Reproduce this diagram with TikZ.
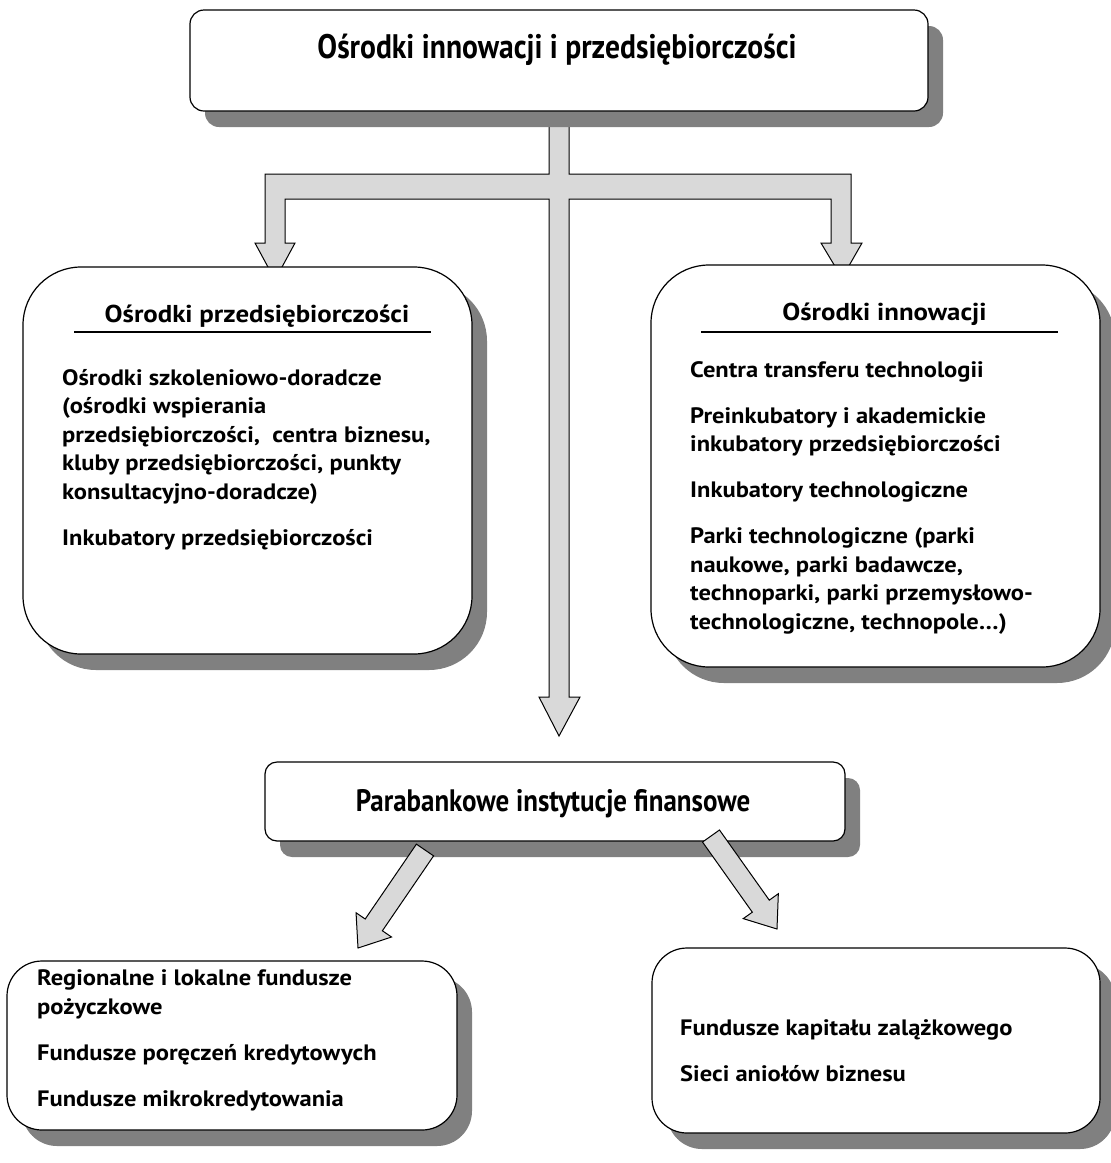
\documentclass[tikz,border=0pt]{standalone}
\usepackage{fontspec}
\setmainfont{PT Sans}
\newfontfamily\condfont[FakeStretch=0.87]{PT Sans}
\newfontfamily\widefont[FakeStretch=1.1]{PT Sans}
\usetikzlibrary{shadows,calc}
\definecolor{arrowfill}{RGB}{217,217,217}
\definecolor{shadowgray}{RGB}{128,128,128}
\tikzset{
  box/.style={draw=black, line width=1.2pt, fill=white, inner sep=0pt,
    drop shadow={shadow xshift=15pt, shadow yshift=-16pt, fill=shadowgray, opacity=1}},
  blockarrow/.style={draw=black, line width=1pt, fill=arrowfill, line join=miter},
  body/.style={font=\widefont\fontsize{22.3}{28.5}\selectfont\bfseries, align=left, anchor=base west, inner sep=0pt},
  heading/.style={font=\widefont\fontsize{24.4}{28}\selectfont\bfseries, anchor=base, inner sep=0pt},
  bigtitle/.style={font=\condfont\fontsize{34}{38}\selectfont\bfseries, anchor=base, inner sep=0pt},
  midtitle/.style={font=\condfont\fontsize{31}{34}\selectfont\bfseries, anchor=base, inner sep=0pt},
  rule/.style={line width=1.5pt}
}
\newcommand\diagarrow[2]{%
  \coordinate (#1h) at ($(#2)!28pt!(#1)$);
  \draw[blockarrow]
    ($(#1)!10.4pt!90:(#2)$) -- ($(#1h)!10.4pt!90:(#2)$) -- ($(#1h)!21.5pt!90:(#2)$)
    -- (#2) -- ($(#1h)!21.5pt!-90:(#2)$) -- ($(#1h)!10.4pt!-90:(#2)$)
    -- ($(#1)!10.4pt!-90:(#2)$) -- cycle;
}
\begin{document}
\begin{tikzpicture}[x=1pt,y=-1pt]
\useasboundingbox (0,0) rectangle (1111,1163);

% T-shaped block arrow
\draw[blockarrow]
  (549,123) -- (569,123) -- (569,174) -- (851,174) -- (851,243) -- (862,243)
  -- (842,278) -- (821,243) -- (831,243) -- (831,199) -- (569,199) -- (569,697)
  -- (580,697) -- (559,736) -- (539,697) -- (549,697) -- (549,199) -- (285,199)
  -- (285,243) -- (295,243) -- (275,280) -- (255,243) -- (265,243) -- (265,174)
  -- (549,174) -- cycle;

% boxes
\node[box, rounded corners=14pt, minimum width=738pt, minimum height=101pt] (top) at (559,60.5) {};
\node[bigtitle] (toptext) at (557,58) {Ośrodki innowacji i przedsiębiorczości};

\node[box, rounded corners=58pt, minimum width=449pt, minimum height=387pt] (lbox) at (247.5,460.5) {};
\node[heading] (lhead) at (257,322) {Ośrodki przedsiębiorczości};
\draw[rule] (74,332) -- (431,332);
\node[body] (ltext) at (62,545) {Ośrodki szkoleniowo-doradcze\\(ośrodki wspierania\\przedsiębiorczości,\ \ centra biznesu,\\kluby przedsiębiorczości, punkty\\konsultacyjno-doradcze)\\[17.5pt]Inkubatory przedsiębiorczości};

\node[box, rounded corners=58pt, minimum width=449pt, minimum height=402pt] (rbox) at (875.5,466) {};
\node[heading] (rhead) at (884.5,320) {Ośrodki innowacji};
\draw[rule] (701,332) -- (1058,332);
\node[body] (rtext) at (690,629) {Centra transferu technologii\\[17.5pt]Preinkubatory i akademickie\\inkubatory przedsiębiorczości\\[17.5pt]Inkubatory technologiczne\\[17.5pt]Parki technologiczne (parki\\naukowe, parki badawcze,\\technoparki, parki przemysłowo-\\technologiczne, technopole…)};

\node[box, rounded corners=12pt, minimum width=580pt, minimum height=79pt] (mid) at (555,801.5) {};
\node[midtitle] (midtext) at (553,811) {Parabankowe instytucje finansowe};

\node[box, rounded corners=35pt, minimum width=450pt, minimum height=169pt] (blbox) at (232,1045.5) {};
\node[body] (bltext) at (37,1106) {Regionalne i lokalne fundusze\\pożyczkowe\\[17.5pt]Fundusze poręczeń kredytowych\\[17.5pt]Fundusze mikrokredytowania};

\node[box, rounded corners=35pt, minimum width=448pt, minimum height=185pt] (brbox) at (876,1040.5) {};
\node[body] (brtext) at (680,1081) {Fundusze kapitału zalążkowego\\[17.5pt]Sieci aniołów biznesu};

% diagonal arrows
\coordinate (la) at (425,850);
\coordinate (lt) at (358,948);
\coordinate (ra) at (711,836);
\coordinate (rt) at (777,929);
\diagarrow{la}{lt}
\diagarrow{ra}{rt}
\end{tikzpicture}
\end{document}
